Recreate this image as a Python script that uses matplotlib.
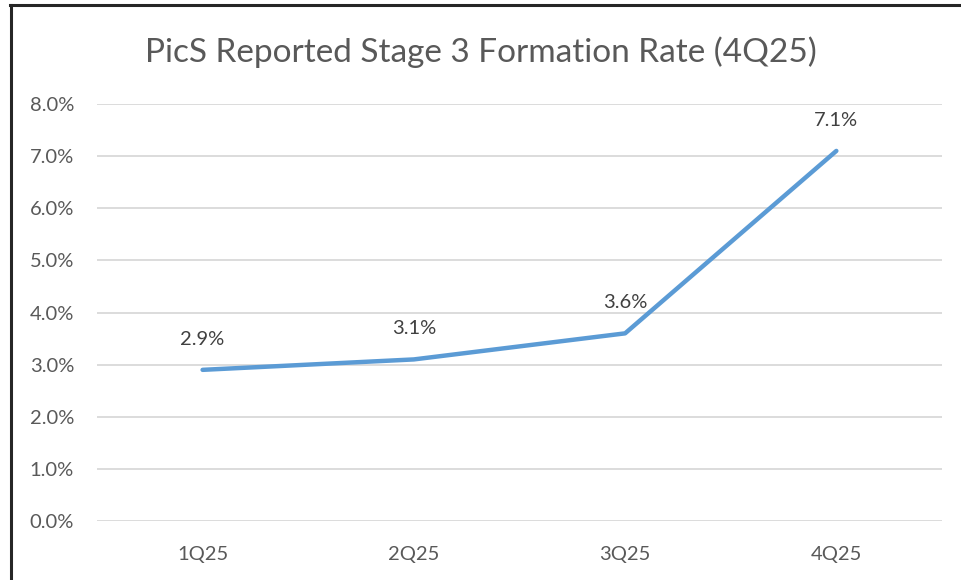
import matplotlib
matplotlib.use('Agg')
import matplotlib.pyplot as plt
from matplotlib.lines import Line2D
from matplotlib.ticker import FuncFormatter

quarters = ['1Q25', '2Q25', '3Q25', '4Q25']
rates = [2.9, 3.1, 3.6, 7.1]
labels = ['2.9%', '3.1%', '3.6%', '7.1%']

plt.rcParams['font.family'] = ['Lato', 'DejaVu Sans']

fig = plt.figure(figsize=(9.61, 5.8), dpi=100)
ax = fig.add_axes([0.1009, 0.1017, 0.8793, 0.719])

x = range(len(quarters))
ax.plot(x, rates, color='#5B9BD5', linewidth=3.2, solid_capstyle='round', zorder=3)

# data labels sit above each point
for i, (v, lab) in enumerate(zip(rates, labels)):
    ax.annotate(lab, (i, v), xytext=(0, 22), textcoords='offset points',
                ha='center', va='center', fontsize=14.5, color='#404040')

ax.set_xlim(-0.5, 3.5)
ax.set_ylim(0, 8)
ax.set_yticks(range(0, 9))
ax.yaxis.set_major_formatter(FuncFormatter(lambda v, p: f'{v:.1f}%'))
ax.set_xticks(list(x))
ax.set_xticklabels(quarters)
ax.tick_params(length=0, labelsize=14.5, labelcolor='#595959')
ax.tick_params(axis='y', pad=16.5)
ax.tick_params(axis='x', pad=18)
ax.grid(axis='y', color='#D9D9D9', linewidth=1.3)
ax.set_axisbelow(True)
for s in ax.spines.values():
    s.set_visible(False)

fig.text(0.5, 0.91, 'PicS Reported Stage 3 Formation Rate (4Q25)',
         ha='center', va='center', fontsize=24, color='#595959')

# outer frame (left and top edges visible)
fig.add_artist(Line2D([10.5/961, 10.5/961], [0, 1 - 5/580], color='#262626', linewidth=2.2))
fig.add_artist(Line2D([10/961, 1], [1 - 5/580, 1 - 5/580], color='#262626', linewidth=2.2))

fig.savefig('out.png', dpi=100)
